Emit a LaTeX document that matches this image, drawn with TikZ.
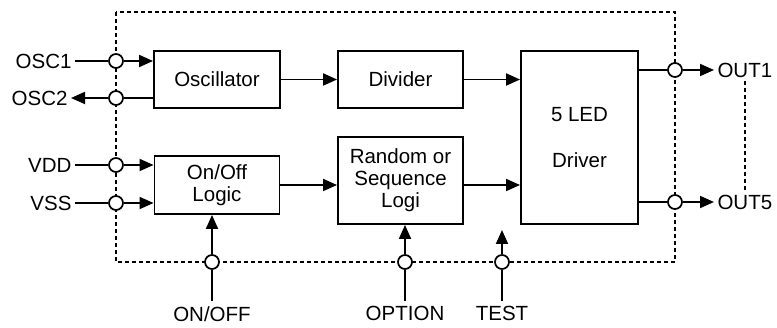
\documentclass[tikz,border=0pt]{standalone}
\usepackage{fontspec}
\setmainfont{Liberation Sans}
\usetikzlibrary{arrows.meta}

\begin{document}
\begin{tikzpicture}[x=1pt, y=-1pt,
  every node/.style={font=\fontsize{20.5}{22}\selectfont},
  blk/.style={draw, line width=1.9pt, inner sep=0pt, align=center},
  pin/.style={circle, draw, fill=white, line width=1.7pt, minimum size=14pt, inner sep=0pt},
  wire/.style={line width=1.9pt},
  sig/.style={line width=1.9pt, -{Triangle[length=14pt,width=12pt]}},
  bnd/.style={line width=1.4pt, dash pattern=on 4pt off 3pt}]
\useasboundingbox (0,0) rectangle (777,328);

% Chip boundary
\draw[bnd] (116,12) rectangle (675,262);

% Blocks
\node[blk, minimum width=126pt, minimum height=57pt] (osc) at (217,79.5) {Oscillator};
\node[blk, minimum width=125pt, minimum height=57pt] (div) at (400.5,79.5) {Divider};
\node[blk, minimum width=125pt, minimum height=58pt] (onoff) at (217,185) {On/Off\\Logic};
\node[blk, minimum width=125pt, minimum height=87pt] (rnd) at (400.5,180.5) {Random or\\Sequence\\Logi};
\node[blk, minimum width=117pt, minimum height=173pt] (drv) at (579.5,137.5) {5 LED\\[24pt]Driver};

% Pins on the boundary
\node[pin] (posc1) at (116,61) {};
\node[pin] (posc2) at (116,98) {};
\node[pin] (pvdd) at (116,165) {};
\node[pin] (pvss) at (116,203) {};
\node[pin] (pout1) at (675,70) {};
\node[pin] (pout5) at (675,202) {};
\node[pin] (ponoff) at (212,262) {};
\node[pin] (popt) at (405,262) {};
\node[pin] (ptest) at (502,262) {};

% Pin labels
\node[anchor=east] (losc1) at (75,61) {OSC1};
\node[anchor=east] (losc2) at (71,98) {OSC2};
\node[anchor=east] (lvdd) at (75,165) {VDD};
\node[anchor=east] (lvss) at (75,203) {VSS};
\node[anchor=west] (lout1) at (714,70) {OUT1};
\node[anchor=west] (lout5) at (714,202) {OUT5};
\node[anchor=north, inner sep=5pt] (lonoff) at (212,301) {ON/OFF};
\node[anchor=north, inner sep=5pt] (lopt) at (405,301) {OPTION};
\node[anchor=north, inner sep=5pt] (ltest) at (502,301) {TEST};
\coordinate (ctest) at (502,230);

% Inputs
\draw[wire] (losc1) -- (posc1);
\draw[sig] (posc1) -- (posc1 -| osc.west);
\draw[wire] (osc.west |- posc2) -- (posc2);
\draw[sig] (posc2) -- (losc2);
\draw[wire] (lvdd) -- (pvdd);
\draw[sig] (pvdd) -- (pvdd -| onoff.west);
\draw[wire] (lvss) -- (pvss);
\draw[sig] (pvss) -- (pvss -| onoff.west);

% Internal signals
\draw[sig] (osc) -- (div);
\draw[sig] (div.east) -- (div.east -| drv.west);
\draw[sig] (onoff.east) -- (onoff.east -| rnd.west);
\draw[sig] (onoff.east -| rnd.east) -- (onoff.east -| drv.west);

% Outputs
\draw[wire] (drv.east |- pout1) -- (pout1);
\draw[sig] (pout1) -- (lout1);
\draw[wire] (drv.east |- pout5) -- (pout5);
\draw[sig] (pout5) -- (lout5);
\draw[bnd] (lout1.south) -- (lout5.north);

% Bottom inputs
\draw[wire] (lonoff) -- (ponoff);
\draw[sig] (ponoff) -- (ponoff |- onoff.south);
\draw[wire] (lopt) -- (popt);
\draw[sig] (popt) -- (popt |- rnd.south);
\draw[wire] (ltest) -- (ptest);
\draw[sig] (ptest) -- (ctest);

\end{tikzpicture}
\end{document}
